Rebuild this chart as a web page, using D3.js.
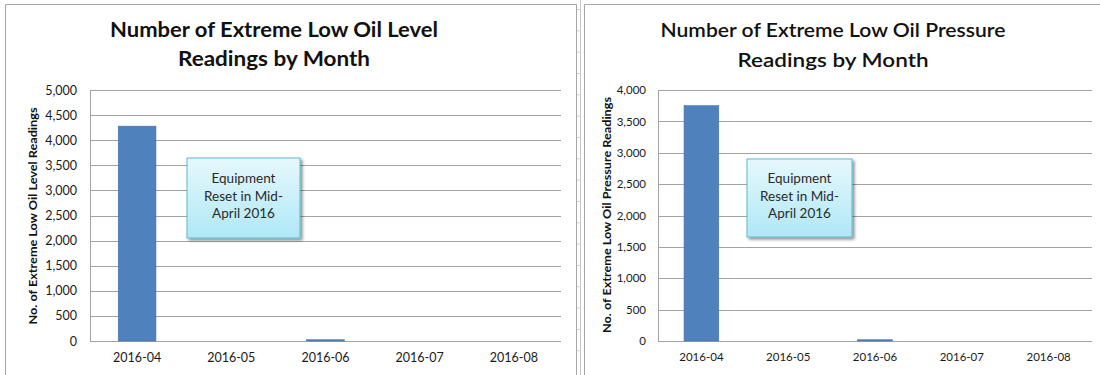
<!DOCTYPE html>
<html>
<head>
<meta charset="utf-8">
<script src="https://cdn.jsdelivr.net/npm/d3@7/dist/d3.min.js"></script>
<style>
  html, body { margin: 0; padding: 0; background: #fff; }
  svg { display: block; }
  text { font-family: Lato, "Open Sans", "DejaVu Sans", sans-serif; }
</style>
</head>
<body>
<svg id="chart" width="1100" height="375"></svg>
<script>
// Monthly counts of extreme low oil readings
const months = ["2016-04", "2016-05", "2016-06", "2016-07", "2016-08"];
const levelCounts = [4280, 0, 25, 0, 0];
const pressureCounts = [3750, 0, 20, 0, 0];
const levelTicks = [0, 500, 1000, 1500, 2000, 2500, 3000, 3500, 4000, 4500, 5000];
const pressureTicks = [0, 500, 1000, 1500, 2000, 2500, 3000, 3500, 4000];
const noteLines = ["Equipment", "Reset in Mid-", "April 2016"];

const svg = d3.select("#chart");
const fmt = d3.format(",");

// Box fill and drop shadow for the callout
const defs = svg.append("defs");
const grad = defs.append("linearGradient").attr("id", "noteFill")
  .attr("x1", 0).attr("y1", 0).attr("x2", 0).attr("y2", 1);
grad.append("stop").attr("offset", "0%").attr("stop-color", "#e6f8fc");
grad.append("stop").attr("offset", "100%").attr("stop-color", "#aee8f6");
const sh = defs.append("filter").attr("id", "noteShadow")
  .attr("x", "-10%").attr("y", "-10%").attr("width", "130%").attr("height", "130%");
sh.append("feGaussianBlur").attr("in", "SourceAlpha").attr("stdDeviation", 1.5).attr("result", "b");
sh.append("feOffset").attr("in", "b").attr("dx", 2).attr("dy", 2).attr("result", "o");
sh.append("feComponentTransfer").attr("in", "o").attr("result", "s")
  .append("feFuncA").attr("type", "linear").attr("slope", 0.45);
const m = sh.append("feMerge");
m.append("feMergeNode").attr("in", "s");
m.append("feMergeNode").attr("in", "SourceGraphic");

// Panel frames
svg.append("path").attr("fill", "none").attr("stroke", "#a6a6a6").attr("stroke-width", 1)
  .attr("d", "M5.5,375 V4.5 H576.5 V375");
svg.append("path").attr("fill", "none").attr("stroke", "#c8c8c8").attr("stroke-width", 1)
  .attr("d", "M580.5,0 V375");
svg.append("path").attr("fill", "none").attr("stroke", "#a6a6a6").attr("stroke-width", 1)
  .attr("d", "M584.5,375 V4.5 H1100");
// sheet row lines visible in the gap between the panels
svg.append("g").selectAll("line").data(d3.range(0, 17)).join("line")
  .attr("x1", 577).attr("x2", 580)
  .attr("y1", d => 9.5 + d * 21.33).attr("y2", d => 9.5 + d * 21.33)
  .attr("stroke", "#d4d4d4");

function drawChart(cfg) {
  const g = svg.append("g");
  const y = d3.scaleLinear().domain([0, cfg.max]).range([cfg.bottom, cfg.top]);
  const x = d3.scaleBand().domain(months).range([cfg.left, cfg.right])
    .paddingInner(0.6).paddingOuter(0.3);

  // Title
  cfg.title.forEach((t, i) => {
    g.append("text")
      .attr("x", cfg.titleX).attr("y", cfg.titleY[i])
      .attr("text-anchor", "middle")
      .attr("font-size", 20).attr("font-weight", cfg.titleWeight).attr("fill", "#111")
      .attr("textLength", cfg.titleLen[i]).attr("lengthAdjust", "spacingAndGlyphs")
      .text(t);
  });

  // Gridlines
  g.append("g").selectAll("line").data(cfg.ticks).join("line")
    .attr("x1", cfg.left).attr("x2", cfg.right)
    .attr("y1", d => Math.round(y(d)) + 0.5).attr("y2", d => Math.round(y(d)) + 0.5)
    .attr("stroke", "#a3a3a3").attr("stroke-width", 1);
  g.append("line")
    .attr("x1", cfg.left + 0.5).attr("x2", cfg.left + 0.5)
    .attr("y1", y(cfg.max)).attr("y2", y(0))
    .attr("stroke", "#a3a3a3");

  // Y axis labels
  const yAxis = d3.axisLeft(y).tickValues(cfg.ticks).tickFormat(fmt).tickSize(0).tickPadding(0);
  const ya = g.append("g").attr("transform", `translate(${cfg.tickRight},0)`).call(yAxis);
  ya.select(".domain").remove();
  ya.selectAll("text").attr("font-size", cfg.tickSize).attr("fill", "#1a1a1a")
    .attr("font-family", "Lato, 'Open Sans', sans-serif");

  // X axis labels
  const xAxis = d3.axisBottom(x).tickSize(0).tickPadding(0);
  const xa = g.append("g").attr("transform", `translate(0,${cfg.bottom})`).call(xAxis);
  xa.select(".domain").remove();
  xa.selectAll("text").attr("font-size", cfg.tickSize).attr("fill", "#1a1a1a")
    .attr("dy", null).attr("y", cfg.xLabelY - cfg.bottom)
    .attr("font-family", "Lato, 'Open Sans', sans-serif");

  // Axis title
  g.append("text")
    .attr("transform", `translate(${cfg.yTitleX},${cfg.yTitleY}) rotate(-90)`)
    .attr("text-anchor", "middle").attr("font-size", 11).attr("font-weight", "bold")
    .attr("fill", "#111")
    .attr("textLength", cfg.yTitleLen).attr("lengthAdjust", "spacingAndGlyphs")
    .text(cfg.yTitle);

  // Bars
  g.append("g").selectAll("rect").data(months.map((mm, i) => ({ m: mm, v: cfg.values[i] })))
    .join("rect")
    .attr("x", d => x(d.m)).attr("width", x.bandwidth())
    .attr("y", d => y(d.v)).attr("height", d => y(0) - y(d.v))
    .attr("fill", "#4f81bd").attr("stroke", "#4573ad").attr("stroke-width", 0.6);

  // Callout
  const nb = g.append("g").attr("filter", "url(#noteShadow)");
  nb.append("rect")
    .attr("x", cfg.note.x).attr("y", cfg.note.y)
    .attr("width", cfg.note.w).attr("height", cfg.note.h)
    .attr("fill", "url(#noteFill)").attr("stroke", "#5fb9cf").attr("stroke-width", 1);
  noteLines.forEach((t, i) => {
    g.append("text")
      .attr("x", cfg.note.x + cfg.note.w / 2).attr("y", 183 + i * 17.5)
      .attr("text-anchor", "middle").attr("font-size", 13.5).attr("fill", "#2a2a2a")
      .text(t);
  });
}

drawChart({
  values: levelCounts, ticks: levelTicks, max: 5000,
  left: 90, right: 561, top: 90, bottom: 341,
  tickRight: 77, tickSize: 12.5, xLabelY: 362,
  title: ["Number of Extreme Low Oil Level", "Readings by Month"],
  titleX: 274, titleY: [37, 66], titleLen: [328, 192], titleWeight: "bold",
  yTitle: "No. of Extreme Low Oil Level Readings", yTitleX: 37, yTitleY: 216, yTitleLen: 217,
  note: { x: 187, y: 158, w: 113, h: 80 }
});

drawChart({
  values: pressureCounts, ticks: pressureTicks, max: 4000,
  left: 658, right: 1092, top: 90, bottom: 341,
  tickRight: 646, tickSize: 11.5, xLabelY: 361,
  title: ["Number of Extreme Low Oil Pressure", "Readings by Month"],
  titleX: 833, titleY: [37, 67], titleLen: [345, 191], titleWeight: "600",
  yTitle: "No. of Extreme Low Oil Pressure Readings", yTitleX: 611, yTitleY: 215, yTitleLen: 236,
  note: { x: 747, y: 159, w: 105, h: 78 }
});
</script>
</body>
</html>
